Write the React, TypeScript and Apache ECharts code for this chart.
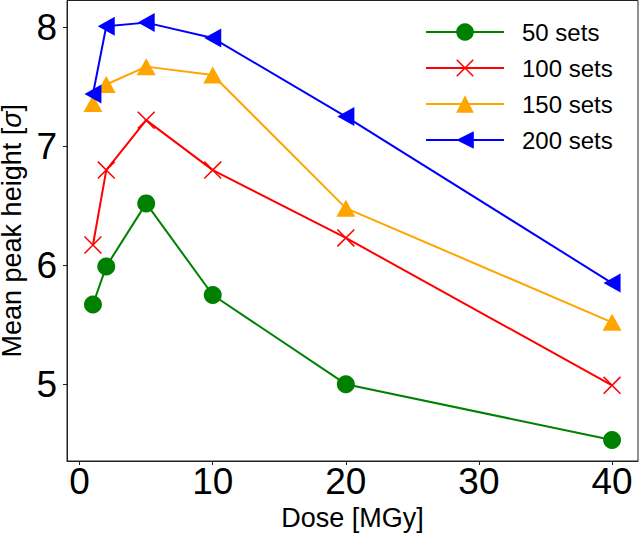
import React, { useEffect, useRef } from "react";
import * as echarts from "echarts";

const doses = [1, 2, 5, 10, 20, 40];
const sets50 = [5.67, 5.99, 6.52, 5.75, 5.0, 4.53];
const sets100 = [6.17, 6.8, 7.22, 6.8, 6.23, 4.99];
const sets150 = [7.36, 7.52, 7.67, 7.6, 6.48, 5.52];
const sets200 = [7.44, 8.01, 8.04, 7.91, 7.25, 5.85];
const seriesNames = ["50 sets", "100 sets", "150 sets", "200 sets"];
const xTicks = [0, 10, 20, 30, 40];
const yTicks = [5, 6, 7, 8];

const FONT = "Liberation Sans, Arial, sans-serif";
const crossPath = "path://M0,6 L6,0 L100,94 L94,100 Z M94,0 L100,6 L6,100 L0,94 Z";
const leftTri = "path://M0,50 L100,0 L100,100 Z";

export default function App() {
  const ref = useRef<HTMLDivElement>(null);
  useEffect(() => {
    if (!ref.current) return;
    const chart = echarts.init(ref.current, undefined, { renderer: "svg" });
    const pair = (vals: number[]) => doses.map((d, i) => [d, vals[i]]);
    const mk = (name: string, vals: number[], color: string, symbol: string, size: any) => ({
      name,
      type: "line",
      data: pair(vals),
      symbol,
      symbolSize: size,
      showAllSymbol: true,
      lineStyle: { color, width: 2 },
      itemStyle: { color, opacity: 1 },
      emphasis: { disabled: true },
    });
    chart.setOption({
      animation: false,
      textStyle: { fontFamily: FONT },
      grid: {
        left: 67,
        right: 2,
        top: 0.5,
        bottom: 72,
        show: true,
        borderColor: "#222",
        borderWidth: 1,
        backgroundColor: "transparent",
        outerBoundsMode: "none",
        containLabel: false,
      },
      legend: {
        orient: "vertical",
        left: 425,
        top: 20,
        padding: 0,
        itemWidth: 78,
        itemHeight: 22,
        itemGap: 12,
        textStyle: { fontSize: 24, color: "#000", fontFamily: FONT, padding: [0, 0, 0, 13] },
        data: seriesNames,
      },
      xAxis: {
        type: "value",
        min: -0.95,
        max: 41.95,
        name: "Dose [MGy]",
        nameLocation: "middle",
        nameGap: 41,
        nameTextStyle: { fontSize: 27, color: "#000", fontFamily: FONT },
        axisLine: { show: true, onZero: false, lineStyle: { color: "#222", width: 1 } },
        axisTick: { show: true, inside: false, length: 4, lineStyle: { color: "#222" }, customValues: xTicks },
        axisLabel: { fontSize: 37, color: "#000", margin: 2, fontFamily: FONT, customValues: xTicks },
        splitLine: { show: false },
      },
      yAxis: {
        type: "value",
        min: 4.354,
        max: 8.226,
        name: "Mean peak height [{i|σ}]",
        nameLocation: "middle",
        nameGap: 41,
        nameTextStyle: {
          fontSize: 27,
          color: "#000",
          fontFamily: FONT,
          rich: { i: { fontStyle: "italic", fontSize: 27, fontFamily: FONT, color: "#000" } },
        },
        axisLine: { show: true, onZero: false, lineStyle: { color: "#222", width: 1 } },
        axisTick: { show: true, inside: false, length: 4, lineStyle: { color: "#222" }, customValues: yTicks },
        axisLabel: { fontSize: 37, color: "#000", margin: 10, fontFamily: FONT, customValues: yTicks },
        splitLine: { show: false },
      },
      series: [
        mk(seriesNames[0], sets50, "#008000", "circle", 18),
        mk(seriesNames[1], sets100, "#ff0000", crossPath, 18),
        mk(seriesNames[2], sets150, "#ffa500", "triangle", [19, 17]),
        mk(seriesNames[3], sets200, "#0000ff", leftTri, [17, 19]),
      ],
    });
    return () => chart.dispose();
  }, []);
  return (
    <div
      ref={ref}
      style={{ position: "absolute", left: 0, top: 0, width: 640, height: 533, background: "#fff" }}
    />
  );
}
